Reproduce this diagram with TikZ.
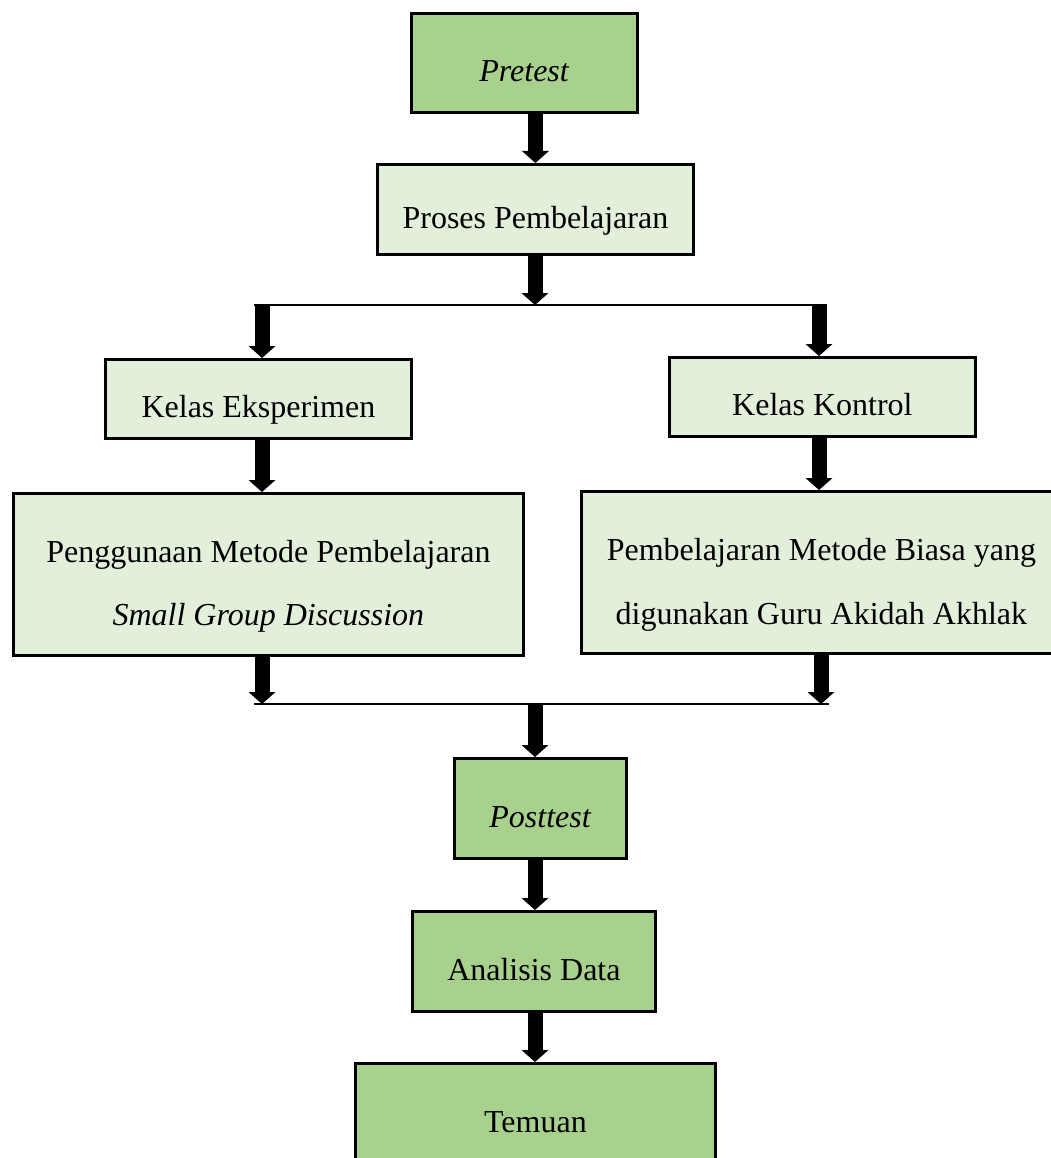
\documentclass[tikz,border=0pt]{standalone}
\usepackage{fontspec}
\setmainfont{Liberation Serif}
\usetikzlibrary{arrows.meta}
\definecolor{dkgreen}{HTML}{A9D18E}
\definecolor{ltgreen}{HTML}{E2EFDA}
\begin{document}
\begin{tikzpicture}[x=1pt,y=-1pt,
  box/.style={draw=black, line width=2.8pt, inner sep=0pt, anchor=north west,
    font=\fontsize{32}{63}\selectfont, text height=38pt, text depth=0pt},
  dkbox/.style={box, fill=dkgreen},
  ltbox/.style={box, fill=ltgreen},
  txt/.style={anchor=base, inner sep=0pt, font=\fontsize{32}{63}\selectfont},
  arr/.style={line width=15pt, -{Triangle[width=27pt,length=12pt,line width=0pt]}},
  hline/.style={line width=2.8pt}]
\useasboundingbox (0,0) rectangle (1051,1158);
\clip (0,0) rectangle (1051,1158);

% boxes
\node[dkbox, minimum width=226pt, minimum height=99pt] (pre) at (410,12) {\textit{Pretest}};
\node[ltbox, minimum width=316pt, minimum height=90pt] (pro) at (376,163) {Proses Pembelajaran};
\node[ltbox, minimum width=306pt, minimum height=79pt] (eks) at (104,358) {Kelas Eksperimen};
\node[ltbox, minimum width=306pt, minimum height=79pt] (kon) at (668,356) {Kelas Kontrol};
\node[ltbox, minimum width=510pt, minimum height=162pt] (pg) at (12,492) {};
\node[ltbox, minimum width=480pt, minimum height=162pt] (pb) at (580,490) {};
\node[dkbox, minimum width=172pt, minimum height=100pt] (post) at (453,757) {\textit{Posttest}};
\node[dkbox, minimum width=243pt, minimum height=100pt] (ana) at (411,910) {Analisis Data};
\node[dkbox, minimum width=360pt, minimum height=100pt] (tem) at (354,1062) {Temuan};

% two-line texts
\node[txt] (pg1) at ([yshift=11.5pt]pg.center) {Penggunaan Metode Pembelajaran};
\node[txt] (pg2) at ([yshift=-51.5pt]pg.center) {\textit{Small Group Discussion}};
\node[txt] (pb1) at ([yshift=11.5pt]pb.center) {Pembelajaran Metode Biasa yang};
\node[txt] (pb2) at ([yshift=-52.5pt]pb.center) {digunakan Guru Akidah Akhlak};

% helper coordinates
\coordinate (sC) at (535,305);
\coordinate (sL) at (262,305);
\coordinate (sR) at (819,305);
\coordinate (sLe) at (254,305);
\coordinate (sRe) at (827,305);
\coordinate (mC) at (535,704);
\coordinate (mL) at (262,704);
\coordinate (mR) at (821,704);
\coordinate (mLe) at (254,704);
\coordinate (mRe) at (829,704);

% connectors
\draw[arr] (pro.north |- pre.south) -- (pro.north);
\draw[arr] (sC |- pro.south) -- (sC);
\draw[hline] (sLe) -- (sRe);
\draw[arr] (sL) -- (sL |- eks.north);
\draw[arr] (sR) -- (sR |- kon.north);
\draw[arr] (sL |- eks.south) -- (sL |- pg.north);
\draw[arr] (sR |- kon.south) -- (sR |- pb.north);
\draw[arr] (mL |- pg.south) -- (mL);
\draw[arr] (mR |- pb.south) -- (mR);
\draw[hline] (mLe) -- (mRe);
\draw[arr] (mC) -- (mC |- post.north);
\draw[arr] (mC |- post.south) -- (mC |- ana.north);
\draw[arr] (mC |- ana.south) -- (mC |- tem.north);
\end{tikzpicture}
\end{document}
